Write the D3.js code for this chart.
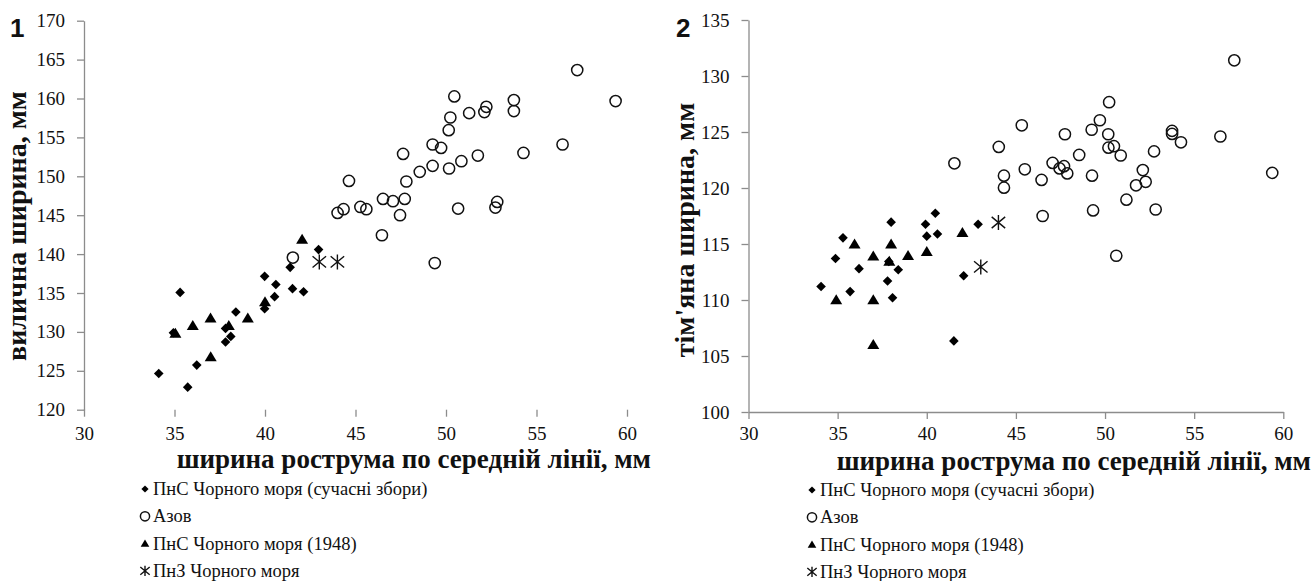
<!DOCTYPE html>
<html>
<head>
<meta charset="utf-8">
<script src="https://cdn.jsdelivr.net/npm/d3@7"></script>
<style>
  html, body { margin: 0; padding: 0; background: #fff; }
  svg { display: block; }
  svg text { font-family: "Liberation Serif", "Times New Roman", serif; }
</style>
</head>
<body>
<svg id="chart" width="1314" height="581"></svg>
<script>
// ---- data -------------------------------------------------------------
const xTicks = [30, 35, 40, 45, 50, 55, 60];
const yTicks1 = [120, 125, 130, 135, 140, 145, 150, 155, 160, 165, 170];
const yTicks2 = [100, 105, 110, 115, 120, 125, 130, 135];

const seriesNames = [
  "ПнС Чорного моря (сучасні збори)",
  "Азов",
  "ПнС Чорного моря (1948)",
  "ПнЗ Чорного моря"
];

const xTitle = "ширина рострума по середній лінії, мм";
const yTitle1 = "вилична ширина, мм";
const yTitle2 = "тім'яна ширина, мм";

// panel 1: rostrum width vs zygomatic width
const blackSeaModern1 = [
  [34.13,124.66],[35.73,122.9],[36.23,125.73],[35.31,135.08],[34.94,129.9],
  [37.82,130.45],[38.11,129.42],[37.82,128.7],[38.39,132.55],[39.98,137.14],
  [40.6,136.1],[40.53,134.53],[39.98,132.98],[41.39,138.3],[41.52,135.56],
  [42.13,135.17],[42.96,140.58]
];
const azov1 = [
  [57.25,163.65],[59.37,159.67],[50.46,160.27],[53.75,159.8],[53.75,158.38],
  [52.23,158.93],[52.12,158.25],[51.28,158.12],[50.24,157.56],[50.15,155.93],
  [49.26,154.09],[49.73,153.65],[47.63,152.88],[56.44,154.09],[54.28,153.0],
  [51.76,152.67],[50.85,151.94],[50.17,151.0],[49.26,151.34],[48.55,150.57],
  [47.81,149.33],[44.64,149.41],[46.52,147.09],[47.07,146.8],[47.72,147.09],
  [45.27,146.06],[45.6,145.77],[44.34,145.77],[44.01,145.29],[47.46,145.0],
  [50.67,145.85],[52.83,146.71],[52.73,145.98],[46.46,142.42],[49.38,138.85],
  [41.54,139.55]
];
const blackSea1948_1 = [
  [35.05,129.8],[36.01,130.8],[36.99,131.74],[37.0,126.76],[38.0,130.8],
  [39.05,131.74],[40.0,133.85],[42.05,141.87]
];
const blackSeaNW1 = [[43.0,139.0],[44.0,139.0]];

// panel 2: rostrum width vs parietal width
const blackSeaModern2 = [
  [34.07,111.2],[34.88,113.7],[35.3,115.55],[35.7,110.75],[36.2,112.8],
  [37.8,111.7],[37.87,113.44],[38.0,116.95],[38.08,110.2],[38.4,112.7],
  [39.93,116.77],[40.0,115.7],[40.48,117.74],[40.6,115.89],[41.52,106.35],
  [42.07,112.17],[42.88,116.77]
];
const azov2 = [
  [57.25,131.4],[59.38,121.35],[50.23,127.66],[49.71,126.05],[45.33,125.6],
  [49.25,125.2],[47.75,124.8],[50.18,124.8],[53.76,125.1],[53.76,124.83],
  [54.26,124.08],[56.47,124.6],[44.04,123.67],[50.19,123.6],[50.5,123.73],
  [50.88,122.9],[52.75,123.27],[48.55,122.95],[47.06,122.24],[47.45,121.75],
  [47.7,121.95],[47.88,121.3],[41.55,122.2],[45.5,121.67],[44.33,121.1],
  [44.33,120.03],[46.44,120.72],[49.27,121.1],[52.12,121.6],[52.28,120.55],
  [51.74,120.24],[51.2,118.96],[46.5,117.5],[49.33,118.0],[52.84,118.08],
  [50.63,113.95]
];
const blackSea1948_2 = [
  [34.92,110.0],[35.95,114.97],[37.0,113.9],[37.0,110.0],[37.0,106.0],
  [38.0,114.97],[37.9,113.43],[38.95,113.95],[40.0,114.3],[42.0,116.0]
];
const blackSeaNW2 = [[44.02,116.92],[43.03,112.95]];

// ---- marker shapes ----------------------------------------------------
const shapes = {
  diamond: s => `M0,${-s}L${s},0L0,${s}L${-s},0Z`,
  triangle: s => `M0,${-s*1.15}L${s*1.2},${s*0.85}L${-s*1.2},${s*0.85}Z`,
  star: s => `M0,${-s}V${s}M${-s*0.9},${-s*0.75}L${s*0.9},${s*0.75}M${-s*0.9},${s*0.75}L${s*0.9},${-s*0.75}`
};

function drawMarker(g, kind, size) {
  if (kind === "circle") {
    g.append("circle").attr("r", size)
      .attr("fill", "none").attr("stroke", "#111").attr("stroke-width", 1.5);
  } else if (kind === "star") {
    g.append("path").attr("d", shapes.star(size))
      .attr("fill", "none").attr("stroke", "#111").attr("stroke-width", 1.4);
  } else {
    g.append("path").attr("d", shapes[kind](size)).attr("fill", "#000");
  }
}

const svg = d3.select("#chart");
const serif = "'Liberation Serif', 'Times New Roman', serif";
const axisGray = "#8c8c8c";

function panel(cfg) {
  const x = d3.scaleLinear().domain([30, 60]).range(cfg.xRange);
  const y = d3.scaleLinear().domain(cfg.yDomain).range(cfg.yRange);
  const g = svg.append("g");

  // y axis
  const ya = g.append("g").attr("transform", `translate(${cfg.xRange[0]},0)`)
    .call(d3.axisLeft(y).tickValues(cfg.yTicks).tickSize(7).tickSizeOuter(0).tickPadding(12));
  // x axis
  const xa = g.append("g").attr("transform", `translate(0,${cfg.yRange[0]})`)
    .call(d3.axisBottom(x).tickValues(xTicks).tickSize(7).tickSizeOuter(0).tickPadding(cfg.xPad));
  if (!cfg.showXLine) xa.select(".domain").remove();

  [ya, xa].forEach(a => {
    a.attr("font-family", serif).attr("font-size", 19);
    a.selectAll(".domain").attr("stroke", axisGray).attr("stroke-width", 1.3);
    a.selectAll(".tick line").attr("stroke", axisGray).attr("stroke-width", 1.3);
    a.selectAll(".tick text").attr("fill", "#111")
      .style("font-family", serif).style("font-size", "19px");
  });

  // series
  const series = [
    { data: cfg.s1, kind: "diamond", size: 4.8 },
    { data: cfg.s2, kind: "circle", size: 5.6 },
    { data: cfg.s3, kind: "triangle", size: 5 },
    { data: cfg.s4, kind: "star", size: 7.5 }
  ];
  // Azov circles go first so the filled markers stay on top
  [1, 0, 2, 3].forEach(i => {
    const s = series[i];
    g.append("g").selectAll("g").data(s.data).join("g")
      .attr("transform", d => `translate(${x(d[0])},${y(d[1])})`)
      .each(function () { drawMarker(d3.select(this), s.kind, s.size); });
  });

  // panel number
  g.append("text").attr("x", cfg.numX).attr("y", 37)
    .style("font-family", "'Liberation Sans', Arial, sans-serif")
    .style("font-weight", "bold").style("font-size", "26px").attr("fill", "#111")
    .text(cfg.num);

  // y title
  g.append("text")
    .attr("transform", `translate(${cfg.yTitleX},${cfg.yTitleY}) rotate(-90)`)
    .attr("text-anchor", "middle")
    .style("font-family", serif).style("font-weight", "bold").style("font-size", "28px")
    .attr("fill", "#111").text(cfg.yTitle);

  // x title
  g.append("text").attr("x", cfg.xTitleX).attr("y", cfg.xTitleY)
    .attr("text-anchor", "end")
    .style("font-family", serif).style("font-weight", "bold").style("font-size", "27px")
    .attr("fill", "#111").text(xTitle);

  // legend
  const lg = g.append("g").attr("transform", `translate(${cfg.legX},${cfg.legY})`);
  const legKinds = [
    { kind: "diamond", size: 3.6 },
    { kind: "circle", size: 4.6 },
    { kind: "triangle", size: 3.6 },
    { kind: "star", size: 5.2 }
  ];
  seriesNames.forEach((name, i) => {
    const row = lg.append("g").attr("transform", `translate(0,${i * cfg.legStep})`);
    drawMarker(row.append("g"), legKinds[i].kind, legKinds[i].size);
    row.append("text").attr("x", 8).attr("y", 6)
      .style("font-family", serif).style("font-size", "18.5px").attr("fill", "#111")
      .text(name);
  });
}

panel({
  num: "1", numX: 10,
  xRange: [84, 627], yDomain: [120, 170], yRange: [409.7, 20.7], yTicks: yTicks1,
  showXLine: false, xPad: 10,
  s1: blackSeaModern1, s2: azov1, s3: blackSea1948_1, s4: blackSeaNW1,
  yTitle: yTitle1, yTitleX: 26, yTitleY: 226,
  xTitleX: 651, xTitleY: 468,
  legX: 145, legY: 489, legStep: 27.3
});

panel({
  num: "2", numX: 676,
  xRange: [748.5, 1283.3], yDomain: [100, 135], yRange: [412, 20], yTicks: yTicks2,
  showXLine: true, xPad: 8,
  s1: blackSeaModern2, s2: azov2, s3: blackSea1948_2, s4: blackSeaNW2,
  yTitle: yTitle2, yTitleX: 694, yTitleY: 230,
  xTitleX: 1311, xTitleY: 470,
  legX: 812, legY: 490, legStep: 27.3
});
</script>
</body>
</html>
